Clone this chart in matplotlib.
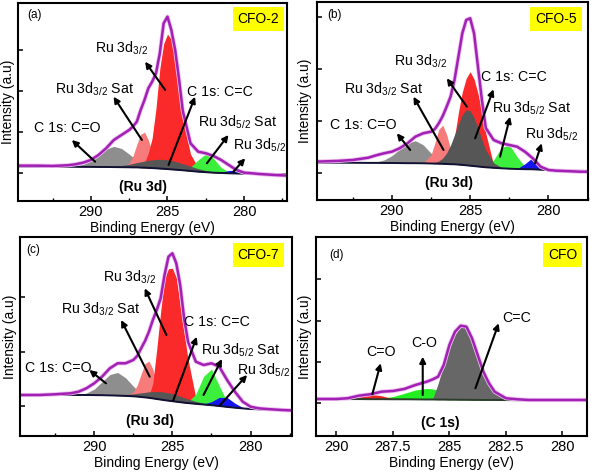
import matplotlib.pyplot as plt

plt.rcParams['font.family'] = ['Liberation Sans', 'DejaVu Sans']
plt.rcParams['mathtext.default'] = 'regular'

# binding energy grid (eV) for the Ru 3d panels
energy_ru = [295, 293.5, 292.5, 291.5, 291, 290.5, 290, 289.5, 289, 288.5,
             288, 287.5, 287.25, 287, 286.75, 286.5, 286.25, 286, 285.75, 285.5,
             285.25, 285, 284.75, 284.5, 284.25, 284, 283.5, 283, 282.5, 282,
             281.5, 281, 280.5, 280, 279.5, 279, 278, 277]

# (a) CFO-2 : background, measured envelope, fitted components (height above background)
base_a = [34.3, 34.3, 34.3, 34.2, 34.2, 34.1, 34.1, 34.0, 34.0, 33.9,
          33.8, 33.7, 33.6, 33.6, 33.4, 33.3, 33.1, 32.9, 32.7, 32.4,
          32.2, 31.9, 31.6, 31.3, 31.0, 30.7, 30.0, 29.3, 28.8, 28.3,
          28.0, 27.7, 27.5, 27.3, 27.2, 27.1, 27.0, 27.0]
env_a = [35.3, 35.3, 35.0, 35.7, 36.7, 38.3, 41.0, 46.0, 52.7, 61.0,
         66.0, 71.0, 74.5, 79.3, 91.0, 101.0, 112.7, 119.3, 127.7, 147.7,
         177.7, 184.3, 171.0, 151.0, 122.0, 90.0, 57.7, 49.3, 47.7, 45.0,
         41.0, 36.0, 31.0, 28.3, 27.7, 27.0, 26.0, 25.3]
co_a = [0, 0, 0, 0.2, 0.8, 2.5, 6.2, 11.9, 17.8, 20.7,
        18.7, 13.2, 10.1, 7.2, 4.9, 3.1, 1.8, 1.0, 0.5, 0.2] + [0] * 18
sat_a = [0] * 10 + [0.2, 4.2, 11.5, 22.8, 33.2, 35.6, 28.0, 16.1, 6.8, 2.1,
                    0.5, 0.1] + [0] * 16
red_a = [0] * 12 + [0.2, 0.5, 2, 5, 15, 30, 60, 100, 125, 135,
                    130, 108, 77, 52, 17, 4, 0.8] + [0] * 9
cc_a = [0] * 6 + [0.1, 0.2, 0.4, 0.9, 1.7, 3.0, 3.9, 4.8, 5.7, 6.5, 7.5, 8.2, 8.9,
                  9.3, 9.4, 9.3, 8.9, 8.2, 7.5, 6.5, 4.8, 3.0, 1.7, 0.9, 0.4,
                  0.2, 0.1] + [0] * 5
green_a = [0] * 25 + [0.6, 3.8, 11.7, 18.3, 14.2, 5.5, 1.1, 0.1] + [0] * 5
blue_a = [0] * 30 + [0.7, 2.8, 3.2, 1.0, 0.1] + [0] * 3

# (b) CFO-5
base_b = [37.3, 37.3, 37.2, 37.1, 37.1, 37.0, 37.0, 36.9, 36.8, 36.8,
          36.7, 36.5, 36.4, 36.3, 36.2, 36.0, 35.8, 35.7, 35.4, 35.1,
          34.7, 34.3, 33.9, 33.5, 33.1, 32.7, 32.2, 31.7, 31.3, 31.0,
          30.8, 30.7, 30.3, 30.0, 29.7, 29.4, 29.1, 29.0]
env_b = [38.3, 39.0, 40.0, 42.3, 44.7, 46.7, 48.3, 51.7, 56.7, 63.3,
         66.7, 68.3, 71.0, 76.7, 84.0, 93.3, 103.3, 120.0, 143.3, 166.7,
         180.0, 181.7, 166.7, 133.3, 100.0, 72.0, 60.0, 56.7, 55.0, 53.3,
         48.3, 41.7, 33.3, 30.0, 29.3, 29.0, 28.3, 28.3]
co_b = [0, 0, 0, 0.3, 1.0, 3.0, 7.3, 13.7, 19.9, 22.5,
        18.5, 10.3, 6.6, 3.9, 2.1, 1.0, 0.4, 0.2] + [0] * 20
sat_b = [0] * 10 + [0.4, 8.4, 20.7, 34.4, 38.7, 29.4, 15.2, 5.3, 1.2, 0.2] + [0] * 18
red_b = [0] * 15 + [1.5, 8, 27, 52, 73, 87, 94, 87, 73, 56, 34, 3, 0.3] + [0] * 10
cc_b = [0] * 11 + [0.4, 1.1, 2.7, 5.7, 11.1, 19.1, 29.5, 40.7, 50.2, 55.5,
                   54.9, 48.6, 38.5, 27.3, 17.3, 5.0, 0.9, 0.1] + [0] * 9
green_b = [0] * 25 + [1.3, 7.8, 20.7, 24.0, 12.2, 2.7, 0.3] + [0] * 6
blue_b = [0] * 29 + [0.3, 5.4, 11.8, 3.3, 0.1] + [0] * 4

# (c) CFO-7
base_c = [41.0, 41.0, 41.0, 41.0, 41.0, 41.0, 40.9, 40.8, 40.6, 40.4,
          40.1, 39.7, 39.4, 39.0, 38.6, 38.2, 37.6, 37.0, 36.4, 35.8,
          35.3, 34.8, 34.3, 33.8, 33.3, 32.9, 32.2, 31.5, 30.8, 30.0,
          29.1, 28.3, 27.6, 27.0, 26.7, 26.4, 26.1, 26.0]
env_c = [41.0, 41.0, 41.7, 42.7, 44.3, 47.7, 52.7, 59.3, 67.7, 72.7,
         72.7, 76.0, 80.0, 87.7, 95.0, 104.3, 116.0, 126.0, 137.7, 161.0,
         179.3, 182.7, 172.7, 151.0, 117.7, 94.3, 74.3, 71.0, 72.7, 69.3,
         56.0, 44.3, 34.3, 29.3, 27.7, 27.0, 26.0, 25.3]
co_c = [0, 0, 0, 0, 0.4, 1.9, 6.0, 13.3, 20.9, 23.1,
        18.2, 10.1, 6.6, 4.0, 2.2, 1.1, 0.5, 0.2] + [0] * 20
sat_c = [0] * 10 + [0.2, 4.2, 11.4, 22.9, 33.9, 36.7, 29.2, 17.1, 7.3, 2.3,
                    0.5, 0.1] + [0] * 16
red_c = [0] * 14 + [0.5, 2, 15, 50, 88, 122, 132, 133, 124, 97, 70, 44, 6, 0.5] + [0] * 10
cc_c = [0] * 7 + [0.1, 0.2, 0.6, 1.3, 2.4, 3.2, 4.1, 5.0, 6.0, 6.8, 7.4, 7.9, 8.0,
                  7.9, 7.4, 6.8, 6.0, 5.0, 4.1, 2.4, 1.3, 0.6, 0.2, 0.1] + [0] * 7
green_c = [0] * 25 + [1.4, 9.6, 28.2, 36.1, 20.2, 5.0, 0.5] + [0] * 6
blue_c = [0] * 27 + [0.6, 3.5, 8.6, 9.4, 4.5, 0.9, 0.1] + [0] * 4

# (d) CFO, C 1s
energy_c1s = [291, 290.5, 290, 289.5, 289, 288.5, 288, 287.5, 287, 286.5,
              286, 285.75, 285.5, 285.25, 285, 284.75, 284.5, 284.25, 284, 283.75,
              283.5, 283.25, 283, 282.5, 282, 281.5, 281, 280.5, 280, 279.5,
              279, 278.5]
base_d = [37.0, 37.0, 37.0, 36.9, 36.9, 36.8, 36.8, 36.7, 36.7, 36.6,
          36.5, 36.5, 36.4, 36.4, 36.3, 36.3, 36.2, 36.2, 36.1, 36.1,
          36.0, 36.0, 36.0, 35.9, 35.8, 35.8, 35.7, 35.6, 35.6, 35.5,
          35.5, 35.4]
env_d = [37.0, 37.0, 37.0, 37.7, 40.3, 41.7, 44.3, 45.0, 47.0, 51.0,
         54.3, 56.5, 59.3, 71.0, 91.0, 104.3, 110.3, 109.3, 97.7, 81.0,
         64.3, 52.7, 44.3, 37.7, 36.7, 36.0, 36.0, 36.0, 36.0, 36.0,
         36.0, 36.0]
cc_d = [0] * 12 + [16.0, 35.4, 51.3, 65.3, 73.3, 72.3, 62.8, 45.0, 29.0, 17.0,
                   8.3, 1.5, 0.2] + [0] * 7
co_d = [0] * 5 + [0.2, 0.9, 2.7, 5.9, 9.4, 11.0, 10.6, 9.4, 7.8, 5.9, 4.2, 2.7,
                  1.7, 0.9, 0.5, 0.2] + [0] * 11
cdo_d = [0] * 3 + [0.3, 2.0, 4.9, 3.4, 0.7, 0.1] + [0] * 23

C_GREY = '#8e8e8e'
C_SAT = '#f77b7b'
C_RED = '#fb2a2a'
C_DARK = '#565656'
C_GREEN = '#3cef3c'
C_BLUE = '#1414f0'
C_ENV = '#a021b4'
C_HALO = '#efbcef'
C_BASE = '#111133'

FS = 10.2


def draw_components(ax, energy, base, parts):
    for comp, col in parts:
        top = [b + c for b, c in zip(base, comp)]
        ax.fill_between(energy, base, top, color=col, lw=0)


def draw_envelope(ax, energy, base, env, base_color):
    ax.plot(energy, base, color=base_color, lw=1.4)
    ax.plot(energy, env, color=C_HALO, lw=3.0, solid_capstyle='butt')
    ax.plot(energy, env, color=C_ENV, lw=1.8)


def style_axes(ax, xlim, ylim, yticks, xticks, xminor, tag, sample, tag_xy, box_xy, ylab_x):
    ax.set_xlim(*xlim)
    ax.set_ylim(*ylim)
    ax.set_xticks(xticks)
    ax.set_xticks(xminor, minor=True)
    ax.set_xticklabels([('%g' % t) for t in xticks])
    ax.set_yticks(yticks)
    ax.set_yticklabels([])
    ax.tick_params(direction='in', length=3.5, width=1.1, labelsize=10.5, pad=3)
    ax.tick_params(which='minor', direction='in', length=2, width=1)
    for s in ax.spines.values():
        s.set_linewidth(1.5)
    ax.set_xlabel('Binding Energy (eV)', fontsize=10, labelpad=1)
    ax.set_ylabel('Intensity (a.u)', fontsize=10)
    ax.yaxis.set_label_coords(ylab_x, 0.5)
    ax.text(*tag_xy, tag, transform=ax.transAxes, fontsize=8.5, ha='center', va='center')
    ax.text(*box_xy, sample, transform=ax.transAxes, fontsize=10, ha='center', va='center',
            bbox=dict(boxstyle='square,pad=0.36', fc='#ffff00', ec='none'))


def annotate(ax, label, text_xy, head, tail):
    ax.text(*text_xy, label, fontsize=FS, ha='center', va='center')
    ax.annotate('', xy=head, xytext=tail,
                arrowprops=dict(arrowstyle='-|>', color='k', lw=1.5, mutation_scale=9,
                                shrinkA=0, shrinkB=0))


def draw_ru(ax, base, env, co, sat, red, cc, green, blue):
    draw_components(ax, energy_ru, base, [(co, C_GREY), (sat, C_SAT), (red, C_RED),
                                          (green, C_GREEN), (blue, C_BLUE), (cc, C_DARK)])
    draw_envelope(ax, energy_ru, base, env, C_BASE)


fig = plt.figure(figsize=(5.91, 4.72), dpi=100)
ax_a = fig.add_axes([0.0305, 0.5742, 0.4552, 0.4195])
ax_b = fig.add_axes([0.5359, 0.5763, 0.4596, 0.4195])
ax_c = fig.add_axes([0.0338, 0.0763, 0.4602, 0.4222])
ax_d = fig.add_axes([0.5347, 0.0763, 0.4591, 0.4206])

sub32 = 'Ru 3d$_{3/2}$'
sub52 = 'Ru 3d$_{5/2}$'

# (a)
draw_ru(ax_a, base_a, env_a, co_a, sat_a, red_a, cc_a, green_a, blue_a)
annotate(ax_a, sub32, (287.98, 152.7), (286.46, 139.3), (285.15, 111))
annotate(ax_a, sub32 + ' Sat', (289.76, 111.7), (288.52, 104.3), (286.67, 61))
annotate(ax_a, 'C 1s: C=C', (281.57, 109.3), (283.2, 104.3), (284.93, 36))
annotate(ax_a, 'C 1s: C=O', (291.54, 72.7), (291.24, 61), (289.72, 39.3))
annotate(ax_a, sub52 + ' Sat', (280.41, 78.3), (281.02, 66), (282.43, 37.7))
annotate(ax_a, sub52, (279.02, 55.3), (279.93, 42.7), (280.7, 29.3))
ax_a.text(286.57, 13.7, '(Ru 3d)', fontsize=10, fontweight='bold', ha='center', va='center')
style_axes(ax_a, (294.75, 277.2), (0, 198), [28, 69, 110, 151], [290, 285, 280],
           [292.5, 287.5, 282.5, 277.5], '(a)', 'CFO-2', (0.06, 0.94), (0.894, 0.919), -0.012)

# (b)
draw_ru(ax_b, base_b, env_b, co_b, sat_b, red_b, cc_b, green_b, blue_b)
annotate(ax_b, sub32, (288.19, 138.3), (286.49, 121.7), (285.21, 93.3))
annotate(ax_b, sub32 + ' Sat', (290.53, 110.7), (288.62, 103.3), (286.7, 50))
annotate(ax_b, 'C 1s: C=C', (282.23, 122.7), (283.51, 110.7), (284.68, 61.7))
annotate(ax_b, 'C 1s: C=O', (291.81, 75), (289.68, 66.7), (288.83, 50))
annotate(ax_b, sub52 + ' Sat', (281.06, 91.7), (282.45, 83.3), (283.09, 43.3))
annotate(ax_b, sub52, (279.79, 66), (280.43, 56.7), (280.85, 36.7))
ax_b.text(286.38, 17.3, '(Ru 3d)', fontsize=10, fontweight='bold', ha='center', va='center')
style_axes(ax_b, (294.8, 277.45), (0, 198), [27.3, 79.3, 131, 183.3], [290, 285, 280],
           [292.5, 287.5, 282.5, 277.5], '(b)', 'CFO-5', (0.067, 0.935), (0.881, 0.914), -0.017)

# (c)
draw_ru(ax_c, base_c, env_c, co_c, sat_c, red_c, cc_c, green_c, blue_c)
annotate(ax_c, sub32, (287.74, 158.7), (286.77, 147.7), (285.38, 101))
annotate(ax_c, sub32 + ' Sat', (289.57, 127), (288.28, 116), (286.45, 59.3))
annotate(ax_c, 'C 1s: C=C', (282.15, 113.7), (283.44, 99.3), (284.95, 35.3))
annotate(ax_c, 'C 1s: C=O', (292.3, 67.7), (290.32, 66), (289.25, 52.7))
annotate(ax_c, sub52 + ' Sat', (280.65, 85.3), (281.83, 77), (283.01, 41))
annotate(ax_c, sub52, (279.14, 66), (280.22, 61), (281.94, 31))
ax_c.text(286.41, 15, '(Ru 3d)', fontsize=10, fontweight='bold', ha='center', va='center')
style_axes(ax_c, (294.75, 277.35), (0, 199.3), [30.3, 84.3, 139.3], [290, 285, 280],
           [292.5, 287.5, 282.5, 277.5], '(c)', 'CFO-7', (0.048, 0.935), (0.877, 0.91), -0.011)

# (d)
draw_components(ax_d, energy_c1s, base_d, [(co_d, '#22ee22'), (cdo_d, '#f02020'),
                                           (cc_d, '#676767')])
draw_envelope(ax_d, energy_c1s, base_d, env_d, '#2b3d2b')
annotate(ax_d, 'C=C', (282.01, 117.7), (282.82, 112.7), (283.85, 47.7))
annotate(ax_d, 'C-O', (286.13, 92.7), (286.18, 79.3), (286.18, 41))
annotate(ax_d, 'C=O', (288.04, 83.7), (288.04, 72.7), (288.41, 41.7))
ax_d.text(285.4, 12.7, '(C 1s)', fontsize=10, fontweight='bold', ha='center', va='center')
style_axes(ax_d, (290.9, 278.9), (0, 198.5), [32.7, 73.7, 115.3, 157],
           [290, 287.5, 285, 282.5, 280], [], '(d)', 'CFO', (0.076, 0.91), (0.909, 0.91), -0.015)

fig.savefig('out.png', dpi=100)
